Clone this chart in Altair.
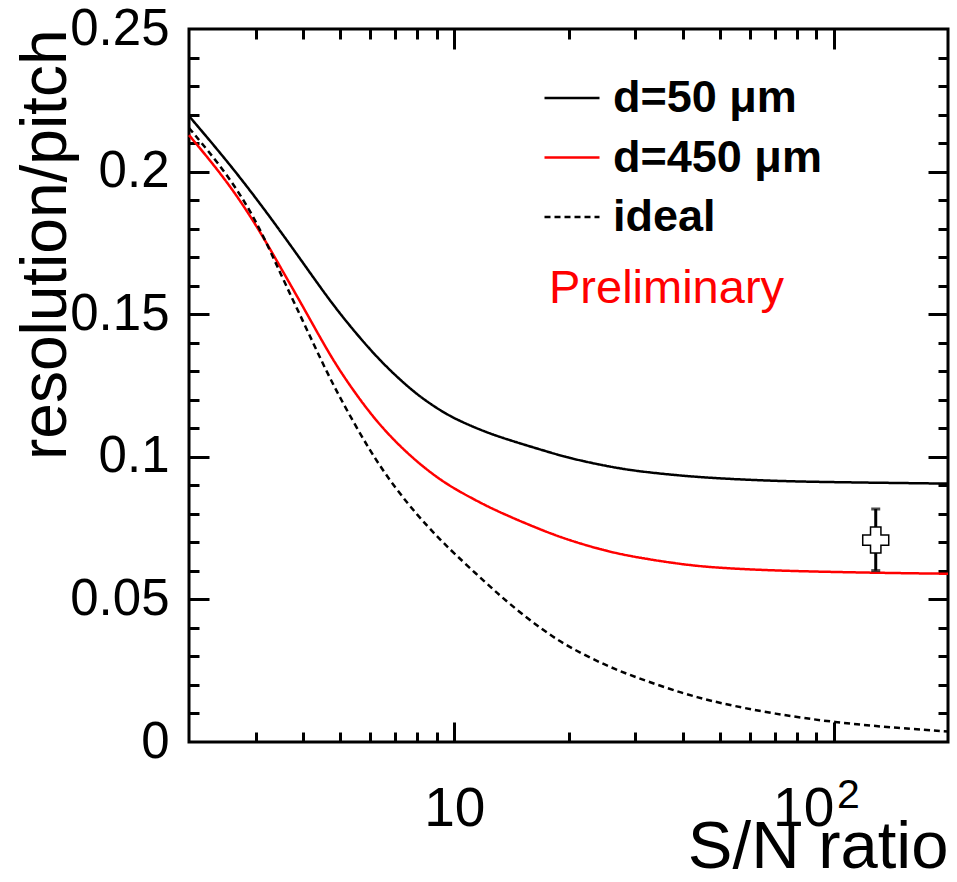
import altair as alt
import pandas as pd

# ---- data ----
sn = [2, 2.5, 3, 3.5, 4, 4.5, 5, 6, 7, 8, 9, 10, 12, 14, 17, 20, 25, 30, 40, 50, 70, 100, 150, 200]
res_d50 = [0.2195, 0.2043, 0.1908, 0.1787, 0.1679, 0.1583, 0.1501, 0.1374, 0.1284, 0.1217, 0.1170,
           0.1134, 0.1088, 0.1058, 0.1024, 0.0996, 0.0968, 0.0950, 0.0933, 0.0924, 0.0915, 0.0911,
           0.0908, 0.0906]
res_d450 = [0.2128, 0.1973, 0.1816, 0.1660, 0.1525, 0.1402, 0.1299, 0.1150, 0.1052, 0.0981, 0.0928,
            0.0888, 0.0831, 0.0790, 0.0743, 0.0708, 0.0670, 0.0648, 0.0622, 0.0610, 0.0601, 0.0596,
            0.0592, 0.0590]
res_ideal = [0.2153, 0.1999, 0.1834, 0.1636, 0.1474, 0.1327, 0.1206, 0.1018, 0.0889, 0.0795, 0.0721,
             0.0661, 0.0563, 0.0483, 0.0395, 0.0333, 0.0269, 0.0227, 0.0170, 0.0136, 0.0098, 0.0069,
             0.0048, 0.0037]
series_names = ["d=50 μm", "d=450 μm", "ideal"]

meas_sn = [129]
meas_val = [0.0708]
meas_lo = [0.0601]
meas_hi = [0.0817]

x_major = [10, 100]
x_minor = [3, 4, 5, 6, 7, 8, 9, 20, 30, 40, 50, 60, 70, 80, 90]
y_labels = [0, 0.05, 0.1, 0.15, 0.2, 0.25]
y_ticks = [0.01, 0.02, 0.03, 0.04, 0.05, 0.06, 0.07, 0.08, 0.09, 0.10, 0.11, 0.12,
           0.13, 0.14, 0.15, 0.16, 0.17, 0.18, 0.19, 0.20, 0.21, 0.22, 0.23, 0.24]

# ---- tables ----
rows = []
for name, vals in zip(series_names, [res_d50, res_d450, res_ideal]):
    for s, v in zip(sn, vals):
        rows.append({"sn": s, "res": v, "series": name})
df = pd.DataFrame(rows)
meas = pd.DataFrame({"sn": meas_sn, "val": meas_val, "lo": meas_lo, "hi": meas_hi})

W, H = 759, 713
FONT = "Liberation Sans"

xs = alt.Scale(type="log", domain=[2, 200], nice=False)
ys = alt.Scale(domain=[0, 0.25], nice=False, zero=False)

cond_x = {"condition": {"test": "datum.value == 10 || datum.value == 100", "value": 20}, "value": 10}
cond_y = {"condition": {"test": "abs(datum.value*20 - round(datum.value*20)) < 0.01", "value": 20}, "value": 10}


def tick_axis(orient, offset, values, size):
    return alt.Axis(orient=orient, offset=offset, values=values, labels=False, domain=False,
                    tickSize=size, tickWidth=3, tickColor="black", title="", grid=False)


base_pts = alt.Chart(df).mark_point(opacity=0)
ticks_a = base_pts.encode(
    x=alt.X("sn:Q", scale=xs, axis=tick_axis("top", -H, x_major + x_minor, cond_x)),
    y=alt.Y("res:Q", scale=ys, axis=tick_axis("right", -W, y_ticks, cond_y)),
)
ticks_b = base_pts.encode(
    x=alt.X("sn:Q", scale=xs, axis=tick_axis("bottom", -H, x_major + x_minor, cond_x)),
    y=alt.Y("res:Q", scale=ys, axis=tick_axis("left", -W, y_ticks, cond_y)),
)

leg = alt.Legend(title=None, orient="none", legendX=354, legendY=40, symbolType="stroke",
                 symbolSize=3025, symbolStrokeWidth=2.5, labelFont=FONT, labelFontWeight="bold",
                 labelFontSize=45, labelColor="black", labelOffset=12, labelLimit=500,
                 rowPadding=7.5, padding=0, symbolOffset=0)

lines = alt.Chart(df).mark_line(strokeWidth=2.5, interpolate="basis").encode(
    x=alt.X("sn:Q", scale=xs, axis=alt.Axis(
        orient="bottom", values=x_major, labelExpr="'10'",
        labelAlign={"condition": {"test": "datum.value == 100", "value": "right"}, "value": "center"},
        ticks=False, domain=False, labelFont=FONT,
        labelFontSize=55, labelPadding=83, labelBaseline="alphabetic", labelFlush=False,
        labelColor="black", title="S/N ratio", titleFont=FONT, titleFontSize=67,
        titleFontWeight="normal", titleColor="black", titleX=W, titleY=125,
        titleAlign="right", titleBaseline="alphabetic", grid=False)),
    y=alt.Y("res:Q", scale=ys, axis=alt.Axis(
        orient="left", values=y_labels, format="~g", ticks=False, domain=False,
        labelFont=FONT, labelFontSize=51, labelPadding=20, labelFlush=False, labelColor="black",
        title="resolution/pitch", titleFont=FONT, titleFontSize=64, titleFontWeight="normal",
        titleColor="black", titleAngle=270, titleX=-124, titleY=0, titleAlign="right",
        titleBaseline="alphabetic", grid=False)),
    color=alt.Color("series:N", scale=alt.Scale(domain=series_names, range=["black", "red", "black"]),
                    legend=leg),
    strokeDash=alt.StrokeDash("series:N", scale=alt.Scale(domain=series_names,
                                                          range=[[1, 0], [1, 0], [6, 4]]),
                              legend=leg),
)

err = alt.Chart(meas).mark_rule(color="black", strokeWidth=3).encode(
    x=alt.X("sn:Q", scale=xs, axis=None),
    y=alt.Y("lo:Q", scale=ys, axis=None),
    y2="hi:Q",
)
caps = alt.Chart(meas).transform_fold(["lo", "hi"], as_=["end", "yv"]).mark_tick(
    orient="horizontal", size=9, thickness=3, color="black").encode(
    x=alt.X("sn:Q", scale=xs, axis=None),
    y=alt.Y("yv:Q", scale=ys, axis=None),
)
marker = alt.Chart(meas).mark_point(shape="cross", filled=True, fill="white", stroke="black",
                                     strokeWidth=1.5, size=676, opacity=1).encode(
    x=alt.X("sn:Q", scale=xs, axis=None),
    y=alt.Y("val:Q", scale=ys, axis=None),
)

note = alt.Chart(pd.DataFrame({"t": ["Preliminary"]})).mark_text(
    align="left", baseline="alphabetic", color="red", font=FONT, fontSize=47).encode(
    x=alt.value(360), y=alt.value(274), text="t:N")

# exponent of the "10^2" tick label
expo = alt.Chart(pd.DataFrame({"t": ["2"]})).mark_text(
    align="left", baseline="alphabetic", color="black", font=FONT, fontSize=41).encode(
    x=alt.value(648), y=alt.value(779), text="t:N")

chart = alt.layer(ticks_a, ticks_b, lines, err, caps, marker, note, expo).resolve_axis(
    x="independent", y="independent"
).properties(
    width=W, height=H,
    autosize=alt.AutoSizeParams(type="none"),
    padding={"left": 189, "top": 29, "right": 9, "bottom": 140},
).configure_view(stroke="black", strokeWidth=3).configure_axis(grid=False)

chart.save("out.html", embed_options={"renderer": "svg", "actions": False})
